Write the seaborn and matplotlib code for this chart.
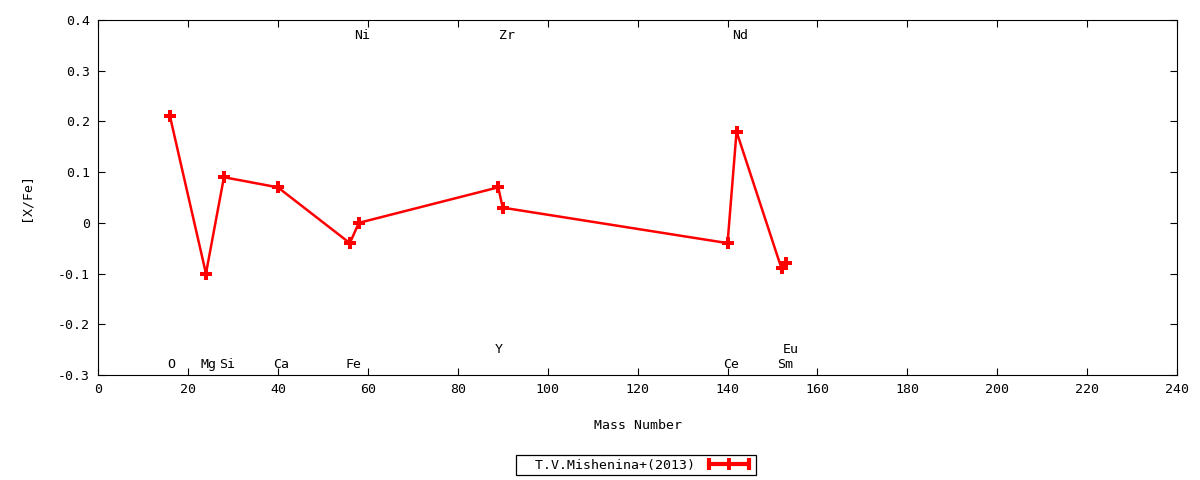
import numpy as np
import pandas as pd
import matplotlib
matplotlib.use("Agg")
import matplotlib.pyplot as plt
import seaborn as sns
from matplotlib.lines import Line2D
from matplotlib.legend_handler import HandlerLine2D, HandlerTuple

# data
elements = ['O', 'Mg', 'Si', 'Ca', 'Fe', 'Ni', 'Y', 'Zr', 'Ce', 'Nd', 'Sm', 'Eu']
mass = [16, 24, 28, 40, 56, 58, 89, 90, 140, 142, 152, 153]
xfe = [0.21, -0.10, 0.09, 0.07, -0.04, 0.00, 0.07, 0.03, -0.04, 0.18, -0.09, -0.08]
label_y = [-0.28, -0.28, -0.28, -0.28, -0.28, 0.37, -0.25, 0.37, -0.28, 0.37, -0.28, -0.25]
label_x = [16.2, 24.6, 28.8, 40.8, 56.8, 58.8, 89.2, 90.9, 140.7, 142.9, 152.8, 154.0]
series_name = 'T.V.Mishenina+(2013)'

df = pd.DataFrame({'mass': mass, 'xfe': xfe, 'el': elements})

sns.set_style('ticks')
plt.rcParams['font.family'] = ['DejaVu Sans Mono', 'DejaVu Sans']
plt.rcParams['font.size'] = 9.5
plt.rcParams['text.color'] = 'black'
plt.rcParams['axes.labelcolor'] = 'black'

fig = plt.figure(figsize=(12, 4.8), dpi=100)
ax = fig.add_axes([0.0817, 0.2188, 0.8993, 0.7395])

sns.lineplot(data=df, x='mass', y='xfe', sort=False, estimator=None, ax=ax,
             color='red', linewidth=1.8, marker='P', markersize=8,
             markeredgewidth=0, legend=False)

for el, lx, ly in zip(elements, label_x, label_y):
    ax.text(lx, ly, el, ha='center', va='center', fontsize=9.5, color='black')

ax.set_xlim(0, 240)
ax.set_ylim(-0.3, 0.4)
ax.set_xticks(np.arange(0, 241, 20))
ax.set_yticks(np.arange(-0.3, 0.41, 0.1))
ax.yaxis.set_major_formatter(plt.FuncFormatter(lambda v, p: '0' if abs(v) < 1e-9 else f'{v:.1f}'))
ax.tick_params(direction='in', length=5, width=0.8, top=True, right=True,
               labelsize=9.5, colors='black', pad=6)
for s in ax.spines.values():
    s.set_visible(True)
    s.set_color('black')
    s.set_linewidth(0.8)

ax.set_xlabel('Mass Number', fontsize=9.5, labelpad=16)
ax.set_ylabel('[X/Fe]', fontsize=9.5, labelpad=18)

# gnuplot style key sample: line with end caps and a plus in the middle
caps = Line2D([], [], color='red', linewidth=3, marker='|', markersize=8, markeredgewidth=3)
plus = Line2D([], [], color='red', linewidth=0, marker='P', markersize=8, markeredgewidth=0)
leg = fig.legend([(caps, plus)], ['  ' + series_name],
                 handler_map={tuple: HandlerTuple(ndivide=1, pad=0),
                              caps: HandlerLine2D(numpoints=2),
                              plus: HandlerLine2D(numpoints=1)},
                 loc='center', bbox_to_anchor=(0.53, 0.031), markerfirst=False,
                 frameon=True, fancybox=False, edgecolor='black', framealpha=1,
                 borderpad=0.25, handlelength=3.6, handletextpad=0.8,
                 borderaxespad=0, fontsize=9.5)
leg.get_frame().set_linewidth(0.9)

fig.savefig('out.png', dpi=100)
